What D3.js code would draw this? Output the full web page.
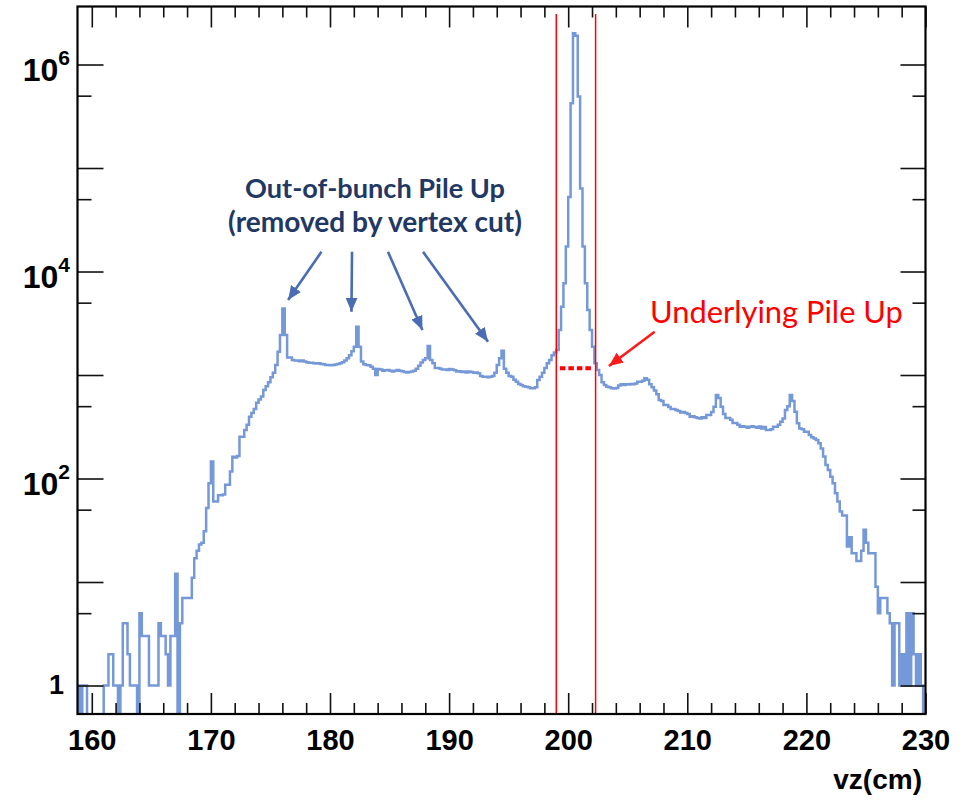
<!DOCTYPE html>
<html>
<head>
<meta charset="utf-8">
<script src="https://cdn.jsdelivr.net/npm/d3@7"></script>
<style>
  html, body { margin: 0; padding: 0; background: #ffffff; }
  svg { display: block; }
</style>
</head>
<body>
<svg id="chart" width="974" height="800"></svg>
<script>
// ---- Histogram of vz: 0.2 cm bins starting at 158.8 cm ----
const binStart = 158.8;
const binWidth = 0.2;

// 158.8 – 168.8 cm
const countsA = [
  1, 0, 1, 1, 0, 0, 0, 0, 0, 0,
  0, 1, 1, 2, 2, 1, 1, 0, 1, 4,
  4, 2, 1, 1, 1, 0, 5, 3, 3, 3,
  1, 1, 1, 1, 4, 3, 3, 2, 1, 3,
  3, 12, 0, 4, 7, 7, 7, 7, 11, 17
];
// 168.8 – 178.8 cm
const countsB = [
  20, 23, 24, 31, 52, 90, 146, 60, 60, 69,
  69, 70, 87, 87, 117, 162, 160, 165, 253, 253,
  295, 330, 395, 430, 470, 540, 580, 620, 716, 780,
  850, 950, 1050, 1250, 1680, 2430, 4400, 2430, 1480, 1480,
  1400, 1380, 1380, 1360, 1380, 1350, 1330, 1310, 1310, 1300
];
// 178.8 – 188.8 cm
const countsC = [
  1290, 1300, 1280, 1270, 1250, 1250, 1240, 1250, 1260, 1280,
  1300, 1330, 1380, 1450, 1550, 1700, 1876, 2930, 1876, 1350,
  1270, 1250, 1240, 1200, 1150, 1000, 1140, 1130, 1100, 1110,
  1120, 1100, 1080, 1100, 1120, 1100, 1090, 1070, 1060, 1070,
  1080, 1100, 1150, 1230, 1320, 1400, 1450, 1905, 1400, 1300
];
// 188.8 – 198.8 cm
const countsD = [
  1170, 1170, 1150, 1130, 1130, 1120, 1140, 1130, 1110, 1080,
  1090, 1070, 1080, 1060, 1080, 1070, 1050, 1060, 1040, 980,
  960, 960, 950, 960, 980, 1050, 1250, 1450, 1718, 1150,
  1050, 980, 960, 900, 861, 820, 800, 780, 771, 760,
  743, 745, 760, 897, 960, 1050, 1170, 1300, 1400, 1550
];
// 198.8 – 208.8 cm
const countsE = [
  1650, 1740, 2720, 4570, 7690, 17400, 52600, 422000, 2000000, 1900000,
  490000, 63500, 17400, 7690, 4250, 2720, 1877, 1298, 1117, 1000,
  850, 800, 771, 760, 743, 740, 750, 790, 815, 800,
  815, 810, 820, 815, 830, 861, 861, 880, 930, 900,
  815, 760, 710, 650, 573, 560, 513, 513, 490, 470
];
// 208.8 – 218.8 cm
const countsF = [
  470, 460, 450, 435, 440, 430, 420, 395, 400, 390,
  384, 380, 390, 384, 410, 410, 440, 494, 641, 600,
  494, 420, 384, 384, 370, 344, 344, 330, 317, 320,
  317, 310, 317, 320, 315, 310, 318, 305, 315, 294,
  294, 300, 317, 317, 330, 354, 380, 459, 500, 641
];
// 218.8 – 228.8 cm
const countsG = [
  560, 442, 341, 305, 300, 283, 283, 263, 250, 244,
  235, 219, 195, 163, 135, 121, 104, 90, 72, 60,
  48, 44, 44, 22, 27, 19, 19, 16, 16, 20,
  32, 24, 19, 19, 19, 9, 5, 7, 7, 7,
  5, 4, 1, 4, 4, 1, 2, 1, 5, 1
];
// 228.8 – 230.0 cm
const countsH = [5, 2, 1, 2, 1, 0];

const counts = [].concat(countsA, countsB, countsC, countsD, countsE, countsF, countsG, countsH);

// Axis ranges and ticks
const xMax = 230;
const yMin = 0.5305;
const yMax = 3.635e6;
const xLabelTicks = [160, 170, 180, 190, 200, 210, 220, 230];
const xMinorTicks = d3.range(160, 230.01, 2);
const yMajorExponents = [0, 1, 2, 3, 4, 5, 6];
const yMinorTicks = [5, 50, 500, 5000, 50000, 500000];
const yLabelExponents = [0, 2, 4, 6];
const xTitle = "vz(cm)";

// Vertex cut window and pile-up level
const cutLow = 199.0;
const cutHigh = 202.3;
const cutLineTop = 3.07e6;
const underlyingLevel = 1160;
const underlyingSpan = [199.3, 202.0];

// Annotation arrows: [tail cm, tail count, tip cm, tip count]
const outOfBunchArrows = [
  [179.28, 15500, 176.48, 5300],
  [181.85, 15500, 181.80, 4090],
  [184.87, 15500, 187.76, 2720],
  [187.81, 15500, 193.27, 2100]
];
const underlyingArrow = [207.26, 2620, 203.42, 1222];
const outOfBunchText = ["Out-of-bunch Pile Up", "(removed by vertex cut)"];
const underlyingText = "Underlying Pile Up";

// ---- Layout ----
const frame = { left: 77.5, right: 925.5, top: 6.5, bottom: 714 };
const svg = d3.select("#chart");

const x = d3.scaleLinear().domain([binStart, xMax]).range([frame.left, frame.right]);
const y = d3.scaleLog().domain([yMin, yMax]).range([frame.bottom, frame.top]);

const defs = svg.append("defs");
defs.append("clipPath").attr("id", "plotClip")
  .append("rect")
  .attr("x", frame.left).attr("y", frame.top)
  .attr("width", frame.right - frame.left)
  .attr("height", frame.bottom - frame.top);

function arrowMarker(id, color, len, wid) {
  defs.append("marker")
    .attr("id", id)
    .attr("viewBox", `0 0 ${len} ${wid}`)
    .attr("refX", len).attr("refY", wid / 2)
    .attr("markerWidth", len).attr("markerHeight", wid)
    .attr("markerUnits", "userSpaceOnUse")
    .attr("orient", "auto")
    .append("path")
    .attr("d", `M0,0L${len},${wid / 2}L0,${wid}Z`)
    .attr("fill", color);
}
arrowMarker("headBlue", "#4a6cb4", 14, 12);
arrowMarker("headRed", "#ff1a1a", 14, 12);

// ---- Histogram outline ----
const yOf = c => (c > 0 ? y(c) : frame.bottom + 2);
const pts = [[x(binStart), frame.bottom + 2]];
counts.forEach((c, i) => pts.push([x(binStart + i * binWidth), yOf(c)]));
const xEnd = x(binStart + counts.length * binWidth);
pts.push([xEnd, yOf(counts[counts.length - 1])]);
pts.push([xEnd, frame.bottom + 2]);

svg.append("path")
  .attr("clip-path", "url(#plotClip)")
  .attr("d", d3.line().curve(d3.curveStepAfter)(pts))
  .attr("fill", "none")
  .attr("stroke", "#7598d8")
  .attr("stroke-width", 2.5)
  .attr("stroke-linejoin", "miter");

// ---- Vertex cut lines ----
svg.selectAll("line.cut")
  .data([cutLow, cutHigh])
  .join("line")
  .attr("class", "cut")
  .attr("x1", d => x(d)).attr("x2", d => x(d))
  .attr("y1", y(cutLineTop)).attr("y2", frame.bottom)
  .attr("stroke", "#ff0000")
  .attr("stroke-width", 1.5);

// Underlying pile-up level (dotted)
svg.append("line")
  .attr("x1", x(underlyingSpan[0])).attr("x2", x(underlyingSpan[1]))
  .attr("y1", y(underlyingLevel)).attr("y2", y(underlyingLevel))
  .attr("stroke", "#ff0000")
  .attr("stroke-width", 4)
  .attr("stroke-dasharray", "5.5,3");

// ---- Frame and ticks ----
const tickColor = "#111";
function tickGroup(axisFn, scale, values, size, tx, ty) {
  const g = svg.append("g")
    .attr("transform", `translate(${tx},${ty})`)
    .call(axisFn(scale).tickValues(values).tickSize(size).tickFormat(""));
  g.select(".domain").remove();
  g.selectAll(".tick line").attr("stroke", tickColor).attr("stroke-width", 1.6);
  return g;
}
const xMajorTickVals = xMinorTicks.filter(v => v % 10 === 0);
const xMinorTickVals = xMinorTicks.filter(v => v % 10 !== 0);
// bottom axis, ticks pointing up
tickGroup(d3.axisTop, x, xMajorTickVals, 21, 0, frame.bottom);
tickGroup(d3.axisTop, x, xMinorTickVals, 11, 0, frame.bottom);
// top axis, ticks pointing down
tickGroup(d3.axisBottom, x, xMajorTickVals, 21, 0, frame.top);
tickGroup(d3.axisBottom, x, xMinorTickVals, 11, 0, frame.top);
// left axis, ticks pointing right
const yMajorVals = yMajorExponents.map(e => Math.pow(10, e));
tickGroup(d3.axisRight, y, yMajorVals, 26, frame.left, 0);
tickGroup(d3.axisRight, y, yMinorTicks, 14, frame.left, 0);
// right axis, ticks pointing left
tickGroup(d3.axisLeft, y, yMajorVals, 25, frame.right, 0);
tickGroup(d3.axisLeft, y, yMinorTicks, 13, frame.right, 0);

svg.append("rect")
  .attr("x", frame.left).attr("y", frame.top)
  .attr("width", frame.right - frame.left)
  .attr("height", frame.bottom - frame.top)
  .attr("fill", "none")
  .attr("stroke", "#000")
  .attr("stroke-width", 2.2);

// ---- Tick labels ----
const labelFont = "'Liberation Sans', Arial, Helvetica, sans-serif";
const xLabels = svg.append("g")
  .attr("transform", `translate(0,${frame.bottom})`)
  .call(d3.axisBottom(x).tickValues(xLabelTicks).tickSize(0).tickPadding(15).tickFormat(d3.format("d")));
xLabels.select(".domain").remove();
xLabels.selectAll("text")
  .attr("font-family", labelFont)
  .attr("font-weight", "bold")
  .attr("font-size", 29)
  .attr("fill", "#000");

const yLab = svg.append("g");
yLabelExponents.forEach(e => {
  const ty = y(Math.pow(10, e));
  if (e === 0) {
    yLab.append("text")
      .attr("x", 64).attr("y", ty + 8.5)
      .attr("text-anchor", "end")
      .attr("font-family", labelFont).attr("font-weight", "bold").attr("font-size", 27)
      .text("1");
  } else {
    const t = yLab.append("text")
      .attr("x", 70).attr("y", ty + 16)
      .attr("text-anchor", "end")
      .attr("font-family", labelFont).attr("font-weight", "bold").attr("font-size", 32);
    t.append("tspan").text("10");
    t.append("tspan").attr("font-size", 21).attr("dy", -16).text(String(e));
  }
});

svg.append("text")
  .attr("x", 922).attr("y", 789)
  .attr("text-anchor", "end")
  .attr("font-family", labelFont).attr("font-weight", "bold").attr("font-size", 28)
  .text(xTitle);

// ---- Annotations ----
svg.selectAll("line.oob")
  .data(outOfBunchArrows)
  .join("line")
  .attr("class", "oob")
  .attr("x1", d => x(d[0])).attr("y1", d => y(d[1]))
  .attr("x2", d => x(d[2])).attr("y2", d => y(d[3]))
  .attr("stroke", "#4a6cb4")
  .attr("stroke-width", 2.6)
  .attr("marker-end", "url(#headBlue)");

svg.append("line")
  .attr("x1", x(underlyingArrow[0])).attr("y1", y(underlyingArrow[1]))
  .attr("x2", x(underlyingArrow[2])).attr("y2", y(underlyingArrow[3]))
  .attr("stroke", "#ff1a1a")
  .attr("stroke-width", 2.6)
  .attr("marker-end", "url(#headRed)");

const annFont = "Lato, 'Open Sans', 'Noto Sans', sans-serif";
function fitText(sel, width) {
  const w = sel.node().getComputedTextLength();
  const fs = parseFloat(sel.attr("font-size"));
  if (w > 0) sel.attr("font-size", fs * width / w);
}

const oobWidths = [260, 294];
const oobBaselines = [198, 232];
outOfBunchText.forEach((s, i) => {
  const t = svg.append("text")
    .attr("x", 375).attr("y", oobBaselines[i])
    .attr("text-anchor", "middle")
    .attr("font-family", annFont)
    .attr("font-weight", "bold")
    .attr("font-size", 26)
    .attr("fill", "#1f3864")
    .text(s);
  fitText(t, oobWidths[i]);
});

const ut = svg.append("text")
  .attr("x", 650).attr("y", 323)
  .attr("font-family", annFont)
  .attr("font-size", 30)
  .attr("fill", "#ff0000")
  .text(underlyingText);
fitText(ut, 253);
</script>
</body>
</html>
